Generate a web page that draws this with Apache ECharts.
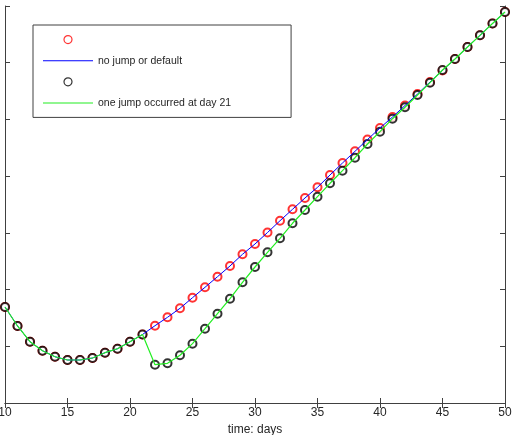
<!DOCTYPE html>
<html><head><meta charset="utf-8">
<script src="https://cdn.jsdelivr.net/npm/echarts@6/dist/echarts.min.js"></script>
<style>html,body{margin:0;padding:0;background:#fff}#c{width:513px;height:435px}</style>
</head><body><div id="c"></div>
<script>
const days = [10,11,12,13,14,15,16,17,18,19,20,21,22,23,24,25,26,27,28,29,30,31,32,33,34,35,36,37,38,39,40,41,42,43,44,45,46,47,48,49,50];
const noJump = [1.693,1.358,1.081,0.922,0.816,0.758,0.758,0.793,0.887,0.957,1.081,1.208,
  1.363,1.511,1.670,1.857,2.040,2.227,2.416,2.622,2.804,3.006,3.214,3.415,3.615,3.803,4.020,4.232,4.438,4.646,
  4.849,5.043,5.246,5.448,5.660,5.863,6.066,6.277,6.483,6.691,6.894];
const oneJump = [1.693,1.358,1.081,0.922,0.816,0.758,0.758,0.793,0.887,0.957,1.081,1.208,
  0.675,0.700,0.841,1.046,1.310,1.575,1.839,2.128,2.398,2.657,2.904,3.169,3.403,3.638,3.874,4.096,4.325,4.567,
  4.784,5.013,5.214,5.431,5.648,5.872,6.066,6.277,6.483,6.691,6.894];
const xTicks = {min:10, max:50, interval:5};
const yTicks = {min:0, max:7, interval:1};
const names = ['m1','no jump or default','m2','one jump occurred at day 21'];

const pair = (ys) => days.map((d,i)=>[d, ys[i]]);
const axisCol = '#404040', textCol = '#262626', font = 'Liberation Sans, Arial, sans-serif';
const chart = echarts.init(document.getElementById('c'));
const tickIn = {show:true, inside:true, length:5, lineStyle:{color:axisCol}};
const lineIcon = 'path://M0,0L50,0L50,1L0,1Z';
chart.setOption({
  animation:false,
  grid:{left:5, right:8, top:6, bottom:32, containLabel:false, outerBoundsMode:'none'},
  xAxis:[
    {type:'value', min:xTicks.min, max:xTicks.max, interval:xTicks.interval, position:'bottom',
     axisLine:{lineStyle:{color:axisCol}}, axisTick:tickIn, splitLine:{show:false},
     axisLabel:{color:textCol, fontSize:12, fontFamily:font, margin:4},
     name:'time: days', nameLocation:'middle', nameGap:16,
     nameTextStyle:{color:textCol, fontSize:12, fontFamily:font}},
    {type:'value', min:xTicks.min, max:xTicks.max, interval:xTicks.interval, position:'top',
     axisLine:{lineStyle:{color:axisCol}}, axisTick:tickIn, splitLine:{show:false}, axisLabel:{show:false}}
  ],
  yAxis:[
    {type:'value', min:yTicks.min, max:yTicks.max, interval:yTicks.interval, position:'left',
     axisLine:{show:true, lineStyle:{color:axisCol}}, axisTick:tickIn, splitLine:{show:false}, axisLabel:{show:false}},
    {type:'value', min:yTicks.min, max:yTicks.max, interval:yTicks.interval, position:'right',
     axisLine:{show:true, lineStyle:{color:axisCol}}, axisTick:tickIn, splitLine:{show:false}, axisLabel:{show:false}}
  ],
  legend:{
    orient:'vertical', left:33, top:25, padding:[10,60,9,10], itemGap:11, itemWidth:50, itemHeight:8,
    borderColor:axisCol, borderWidth:1, backgroundColor:'#fff', selectedMode:false,
    textStyle:{color:textCol, fontSize:10.5, fontFamily:font, padding:[0,0,0,0]},
    formatter:(n)=> (n==='m1'||n==='m2') ? '' : n,
    data:[
      {name:'m1', icon:'circle', itemStyle:{color:'#fff', borderColor:'#ff0000', borderWidth:1.2}},
      {name:'no jump or default', icon:lineIcon, itemStyle:{color:'#0000ff', borderWidth:0}},
      {name:'m2', icon:'circle', itemStyle:{color:'#fff', borderColor:'#000', borderWidth:1.2}},
      {name:'one jump occurred at day 21', icon:lineIcon, itemStyle:{color:'#22ee22', borderWidth:0}}
    ]
  },
  series:[
    {name:names[0], type:'scatter', data:pair(noJump), symbol:'emptyCircle', symbolSize:8,
     itemStyle:{color:'#ff0000', borderColor:'#ff0000', borderWidth:1.2}},
    {name:names[1], type:'line', data:pair(noJump), symbol:'none', lineStyle:{color:'#0000ff', width:1}, itemStyle:{color:'#0000ff'}},
    {name:names[2], type:'scatter', data:pair(oneJump), symbol:'emptyCircle', symbolSize:8,
     itemStyle:{color:'#000', borderColor:'#000', borderWidth:1.2}},
    {name:names[3], type:'line', data:pair(oneJump), symbol:'none', lineStyle:{color:'#22ee22', width:1.2}, itemStyle:{color:'#22ee22'}}
  ]
});
</script></body></html>
